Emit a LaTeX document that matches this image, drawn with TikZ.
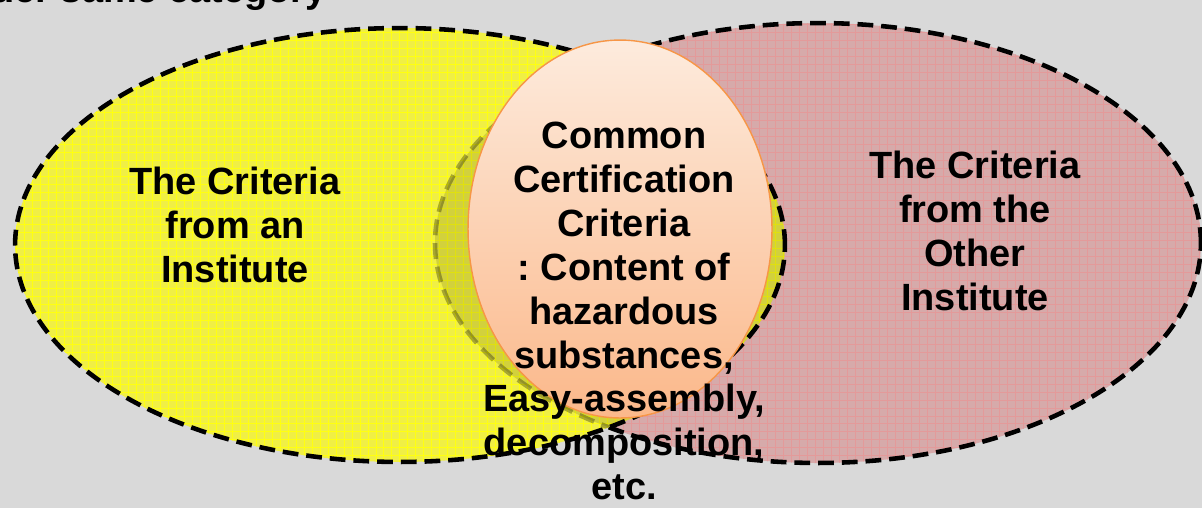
\documentclass[tikz,border=0pt]{standalone}
\usepackage{fontspec}
\setmainfont{Liberation Sans}
\usetikzlibrary{shapes.geometric}

\definecolor{bggray}{HTML}{D9D9D9}
\definecolor{instyellow}{HTML}{F0EF45}
\definecolor{instgrid}{HTML}{FFFF10}
\definecolor{otherpink}{HTML}{D6AAAA}
\definecolor{othergrid}{HTML}{E39A9A}
\definecolor{commontop}{HTML}{FDEBDD}
\definecolor{commonbot}{HTML}{FBB88A}
\definecolor{commonedge}{HTML}{F79646}

\begin{document}
\begin{tikzpicture}[x=0.02cm, y=-0.02cm,
  set/.style={ellipse, inner sep=0pt, minimum width=#1},
  setborder/.style={draw=black, line width=2.6pt, dash pattern=on 9pt off 4.5pt},
  every node/.style={font=\bfseries\fontsize{21.6}{25}\selectfont, align=center, text=black}
  ]
  \useasboundingbox (0,0) rectangle (1202,508);
  \fill[bggray] (0,0) rectangle (1202,508);

  \node[anchor=base east] (title) at (333,2) {Under same category};

  \node[set=15.32cm, minimum height=8.8cm, fill=otherpink] (other) at (818,243) {};
  \begin{scope}
    \clip (818,243) ellipse [x radius=383, y radius=220];
    \draw[othergrid, line width=0.5pt, step=0.16cm] (0,0) grid (1202,508);
  \end{scope}
  \node[set=15.32cm, minimum height=8.8cm, setborder] at (other) {};

  \node[set=15.4cm, minimum height=8.68cm, fill=instyellow] (inst) at (400,245) {};
  \begin{scope}
    \clip (400,245) ellipse [x radius=385, y radius=217];
    \draw[instgrid, line width=0.5pt, step=0.16cm] (0,0) grid (1202,508);
    \fill[black, opacity=0.12] (818,243) ellipse [x radius=383, y radius=220];
    \draw[setborder, opacity=0.3] (818,243) ellipse [x radius=383, y radius=220];
  \end{scope}
  \node[set=15.4cm, minimum height=8.68cm, setborder] at (inst) {};

  \node[set=6.08cm, minimum height=7.56cm, draw=commonedge, line width=0.8pt,
    top color=commontop, bottom color=commonbot] (common) at (620,229) {};

  \node (insttext) at (235,225) {The Criteria\\from an\\Institute};
  \node (othertext) at (975,231) {The Criteria\\from the\\Other\\Institute};
  \node (commontext) at (624,311) {Common\\Certification\\Criteria\\:\ Content of\\hazardous\\substances,\\Easy-assembly,\\decomposition,\\etc.};
\end{tikzpicture}
\end{document}
